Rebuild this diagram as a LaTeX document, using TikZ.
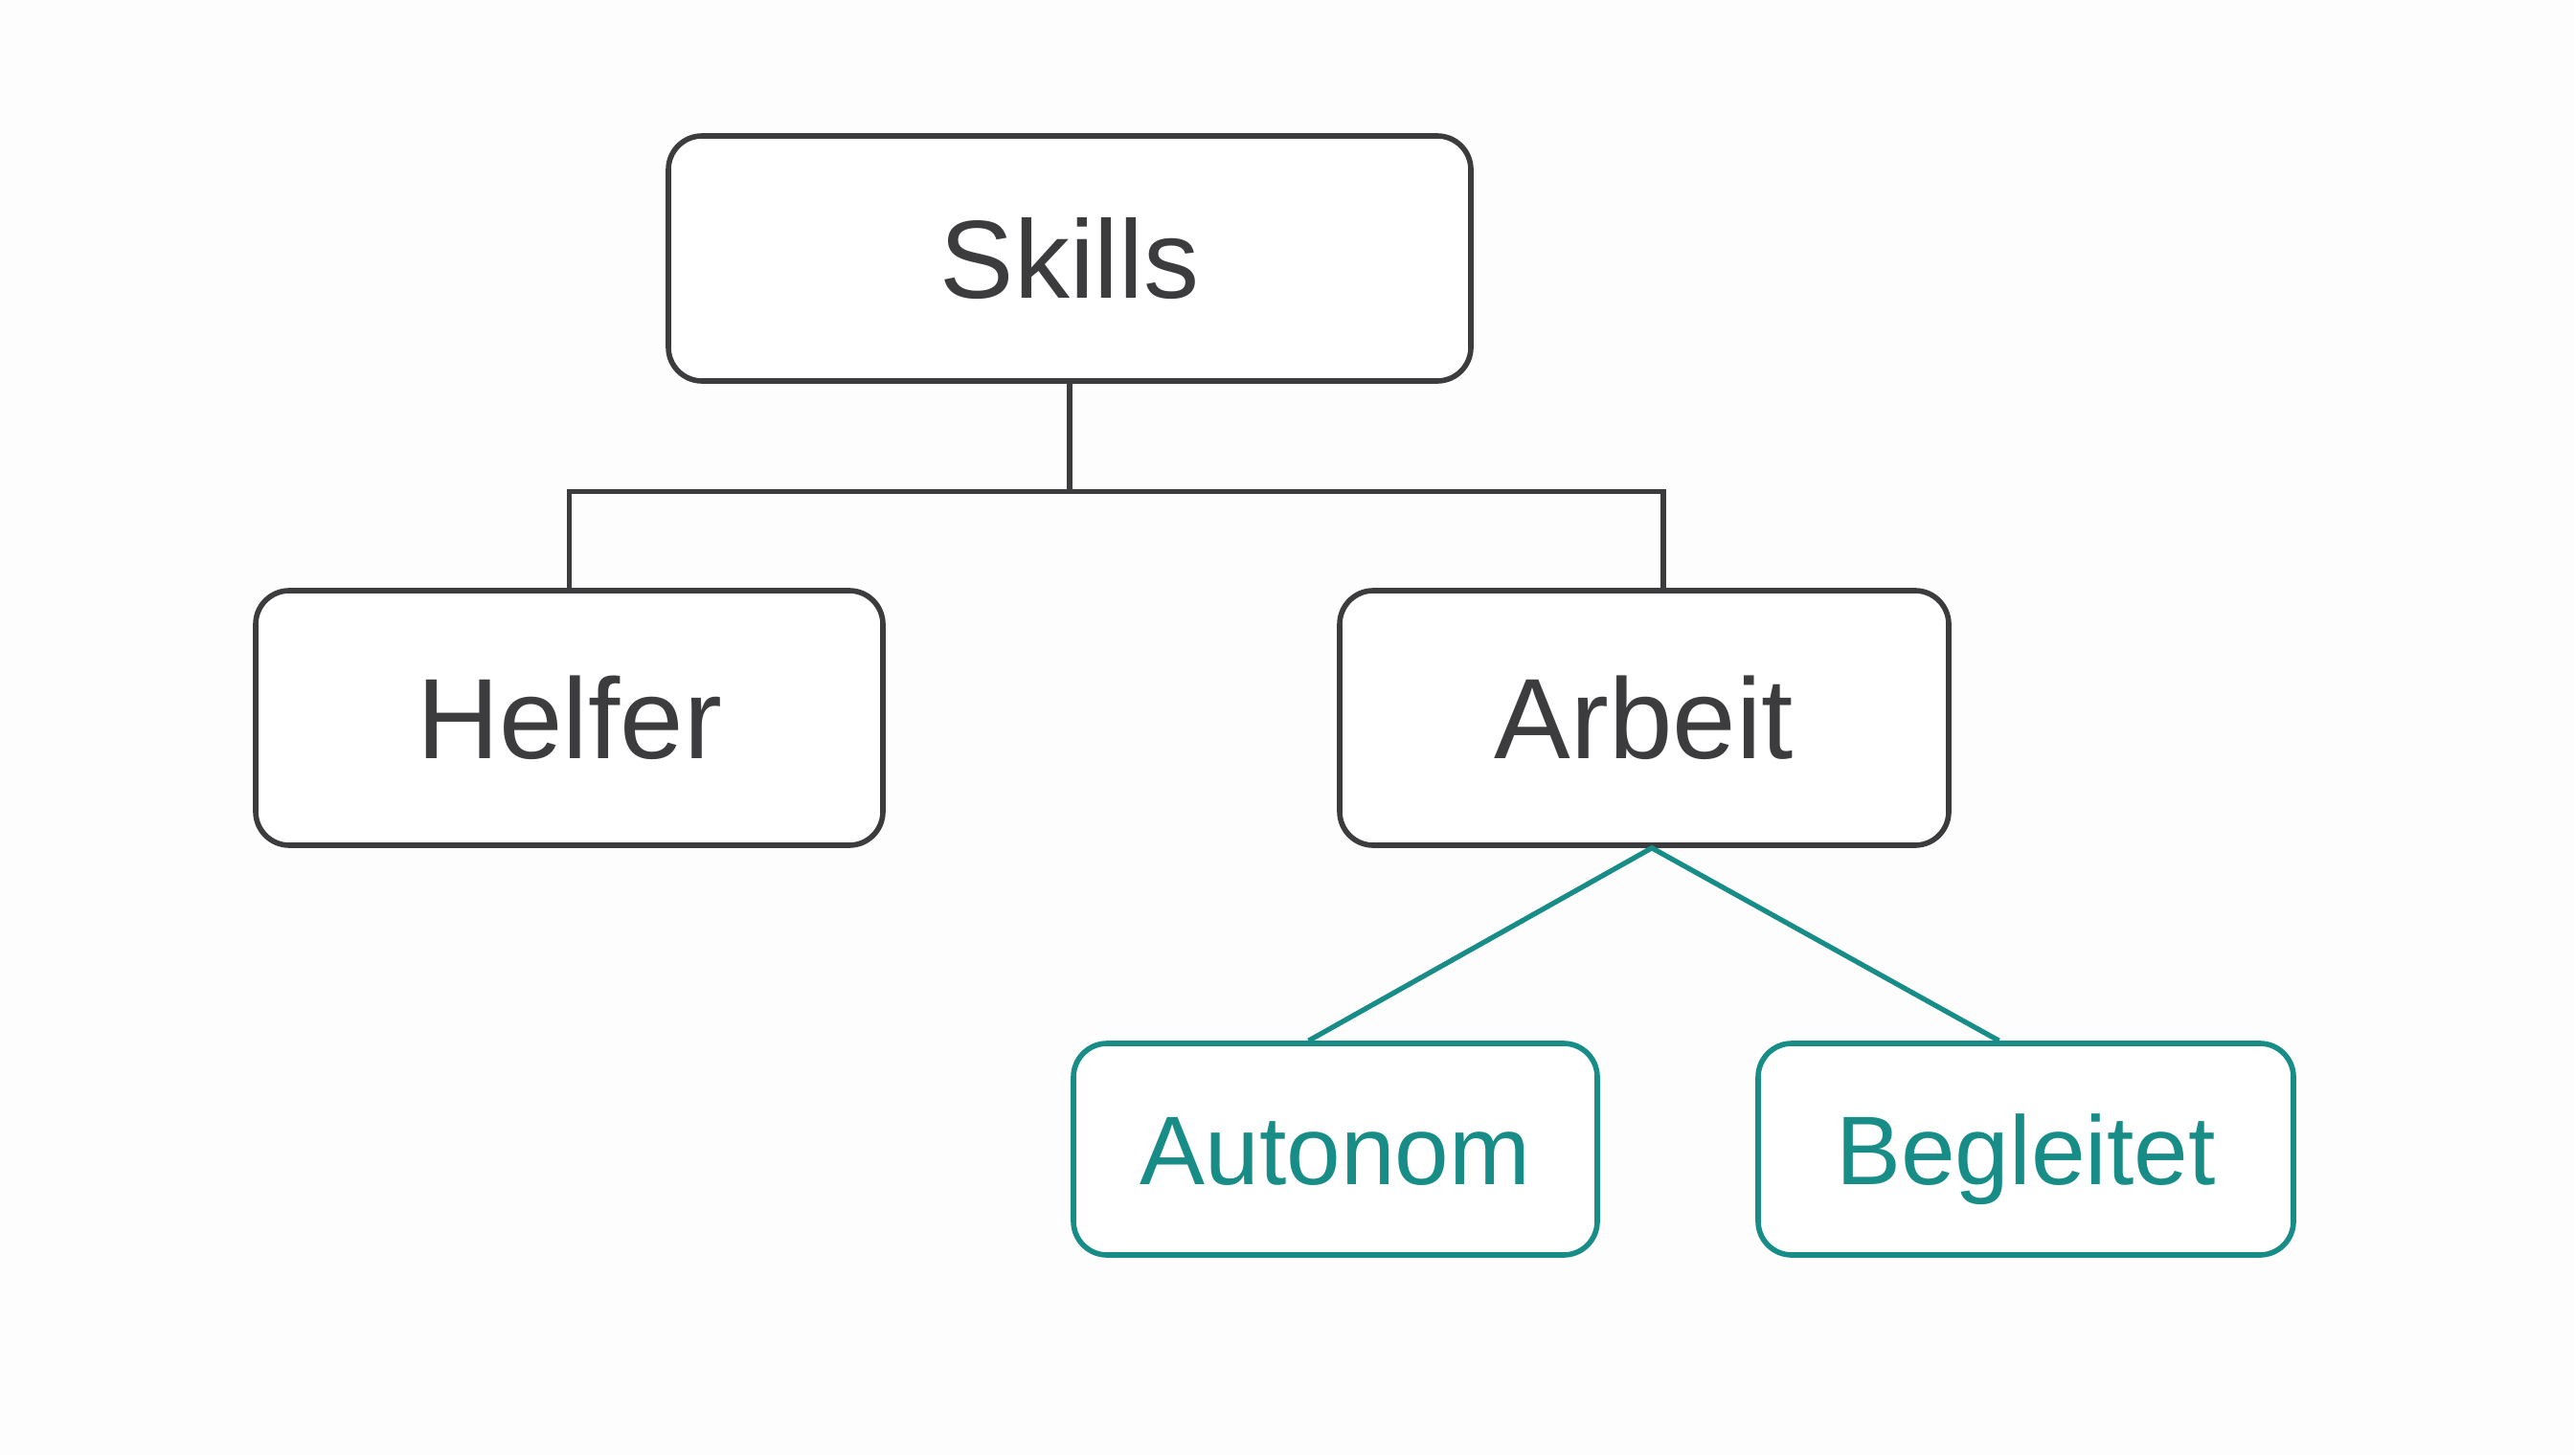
\documentclass[tikz,border=0pt]{standalone}
\usepackage{fontspec}
\setmainfont{Liberation Sans}
\usepackage{tikz}
\usetikzlibrary{positioning, calc}
\definecolor{boxGray}{RGB}{60, 60, 62}
\definecolor{boxTeal}{RGB}{24, 140, 134}
\definecolor{paperWhite}{RGB}{253, 253, 253}
\tikzset{
  skillbox/.style={
    draw=boxGray,
    line width=1.6pt,
    rounded corners=10pt,
    fill=white,
    inner sep=0pt,
    text depth=0pt,
    text=boxGray
  },
  rootbox/.style={
    skillbox,
    minimum width=8.38cm,
    minimum height=2.56cm,
    text height=23.6pt,
    font=\fontsize{33}{36}\selectfont
  },
  levelbox/.style={
    skillbox,
    minimum height=2.66cm,
    text height=24.3pt,
    font=\fontsize{34}{38}\selectfont
  },
  leafbox/.style={
    skillbox,
    draw=boxTeal,
    text=boxTeal,
    minimum height=2.21cm,
    text height=20.8pt,
    font=\fontsize{29}{33}\selectfont
  },
  treeline/.style={
    draw=boxGray,
    line width=1.5pt
  },
  leafline/.style={
    draw=boxTeal,
    line width=1.5pt
  }
}

\begin{document}
\begin{tikzpicture}
      % canvas
      \fill[paperWhite] (0,0) rectangle (26.88,15.20);
      \useasboundingbox (0,0) rectangle (26.88,15.20);

      % root
      \node[rootbox] (skills) at (11.17, 12.50) {Skills};

      % first level
      \node[levelbox, minimum width=6.55cm] (helfer) at (5.945, 7.70) {Helfer};
      \node[levelbox, minimum width=6.36cm] (arbeit) at (17.17, 7.70) {Arbeit};

      % second level
      \node[leafbox, minimum width=5.47cm] (autonom) at (13.945, 3.195) {Autonom};
      \node[leafbox, minimum width=5.59cm] (begleitet) at (21.155, 3.195) {Begleitet};

      % tree lines
      \draw[treeline] (skills.south) -- ++(0,-1.13) coordinate (fork);
      \draw[treeline] (helfer.north) |- (fork) -| ([xshift=2mm]arbeit.north);
      \draw[leafline] ([xshift=-2.8mm]autonom.north) -- ([xshift=0.8mm]arbeit.south) -- ([xshift=-2.8mm]begleitet.north);
    \end{tikzpicture}
\end{document}
